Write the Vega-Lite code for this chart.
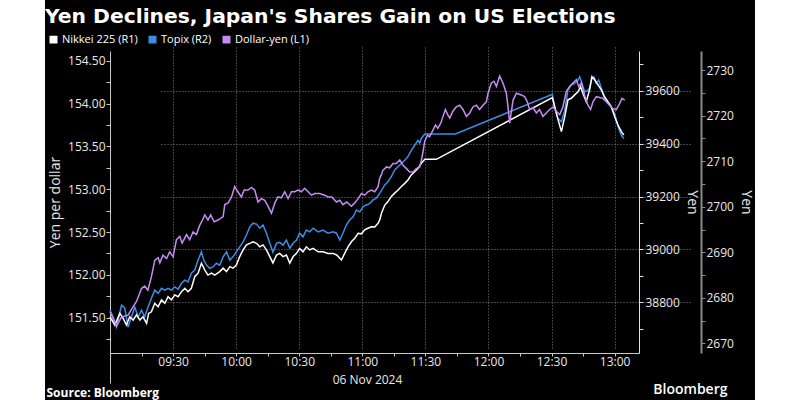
{
  "$schema": "https://vega.github.io/schema/vega-lite/v6.json",
  "width": 710,
  "height": 400,
  "autosize": "none",
  "padding": {"left": 45, "right": 45, "top": 0, "bottom": 0},
  "background": "#ffffff",
  "title": {"text": "Yen Declines, Japan's Shares Gain on US Elections", "anchor": "start", "frame": "group", "offset": -27, "font": "DejaVu Sans", "fontSize": 20.3, "fontWeight": "bold", "color": "#ffffff"},
  "config": {
    "view": {"fill": "#000000", "stroke": null},
    "font": "Open Sans",
    "axis": {"labelFont": "Open Sans", "labelFontSize": 12, "labelColor": "#e8e8e8", "titleFont": "Open Sans", "titleFontSize": 14, "titleFontWeight": "normal", "titleColor": "#e8e8e8", "domainColor": "#c8c8c8", "tickColor": "#c8c8c8", "tickSize": 4, "gridColor": "#808080", "gridDash": [1, 2], "labelOverlap": false, "labelFlush": false},
    "legend": {"orient": "none", "legendX": 3, "legendY": 34, "direction": "horizontal", "symbolType": "square", "symbolSize": 42, "labelFont": "Open Sans", "labelFontSize": 11, "labelColor": "#ffffff", "columnPadding": 8, "labelOffset": 3, "padding": 0}
  },
  "layer": [
    {
      "data": {"format": {"parse": {"t": "date:'%H:%M:%S'"}}, "values": [
        {"t":"09:00:00","v":2677.3},{"t":"09:01:30","v":2675.8},{"t":"09:03:06","v":2673.6},{"t":"09:05:30","v":2678.4},{"t":"09:07:00","v":2677.8},{"t":"09:08:36","v":2673.6},{"t":"09:10:12","v":2675.8},{"t":"09:11:48","v":2678.0},{"t":"09:13:24","v":2675.8},{"t":"09:15:00","v":2677.3},{"t":"09:16:30","v":2675.8},{"t":"09:18:06","v":2678.0},{"t":"09:19:42","v":2679.9},{"t":"09:21:18","v":2681.7},{"t":"09:22:54","v":2681.0},{"t":"09:24:30","v":2682.1},{"t":"09:26:06","v":2681.7},{"t":"09:27:36","v":2682.1},{"t":"09:29:12","v":2681.7},{"t":"09:30:48","v":2682.4},{"t":"09:32:24","v":2681.9},{"t":"09:34:00","v":2683.2},{"t":"09:35:36","v":2683.9},{"t":"09:37:06","v":2683.5},{"t":"09:38:42","v":2685.4},{"t":"09:40:18","v":2686.1},{"t":"09:41:54","v":2688.3},{"t":"09:43:30","v":2690.1},{"t":"09:44:36","v":2688.3},{"t":"09:45:54","v":2687.2},{"t":"09:47:24","v":2686.5},{"t":"09:49:00","v":2686.8},{"t":"09:50:36","v":2687.6},{"t":"09:52:12","v":2687.2},{"t":"09:53:48","v":2689.0},{"t":"09:55:24","v":2690.1},{"t":"09:57:00","v":2688.3},{"t":"09:58:30","v":2689.0},{"t":"10:00:06","v":2690.1},{"t":"10:01:42","v":2691.2},{"t":"10:03:18","v":2692.3},{"t":"10:04:54","v":2693.8},{"t":"10:06:30","v":2695.6},{"t":"10:08:00","v":2696.4},{"t":"10:09:42","v":2696.2},{"t":"10:11:12","v":2695.3},{"t":"10:12:48","v":2696.0},{"t":"10:14:24","v":2694.2},{"t":"10:16:00","v":2692.0},{"t":"10:17:30","v":2690.0},{"t":"10:19:12","v":2692.0},{"t":"10:20:42","v":2692.2},{"t":"10:22:18","v":2691.6},{"t":"10:23:54","v":2692.7},{"t":"10:25:30","v":2690.9},{"t":"10:27:06","v":2692.0},{"t":"10:28:42","v":2692.7},{"t":"10:30:12","v":2694.2},{"t":"10:31:48","v":2693.4},{"t":"10:33:24","v":2694.9},{"t":"10:35:00","v":2694.5},{"t":"10:36:36","v":2695.3},{"t":"10:39:00","v":2694.5},{"t":"10:41:18","v":2694.9},{"t":"10:43:42","v":2694.2},{"t":"10:46:06","v":2694.5},{"t":"10:47:42","v":2694.2},{"t":"10:49:18","v":2692.7},{"t":"10:50:48","v":2694.2},{"t":"10:52:24","v":2696.0},{"t":"10:54:00","v":2697.1},{"t":"10:55:36","v":2697.8},{"t":"10:57:12","v":2699.3},{"t":"10:58:48","v":2698.9},{"t":"11:00:18","v":2700.0},{"t":"11:01:54","v":2700.4},{"t":"11:03:30","v":2700.7},{"t":"11:05:06","v":2701.5},{"t":"11:06:42","v":2701.9},{"t":"11:08:18","v":2703.0},{"t":"11:10:42","v":2704.8},{"t":"11:12:12","v":2705.5},{"t":"11:13:48","v":2706.6},{"t":"11:15:24","v":2708.1},{"t":"11:17:00","v":2708.8},{"t":"11:18:36","v":2709.5},{"t":"11:20:12","v":2710.2},{"t":"11:21:42","v":2711.0},{"t":"11:23:18","v":2712.4},{"t":"11:24:54","v":2713.5},{"t":"11:26:30","v":2714.6},{"t":"11:27:18","v":2714.0},{"t":"11:28:06","v":2715.0},{"t":"11:29:42","v":2716.0},{"t":"11:44:18","v":2716.0},{"t":"12:30:24","v":2724.7},{"t":"12:31:30","v":2721.6},{"t":"12:33:00","v":2719.4},{"t":"12:34:42","v":2718.7},{"t":"12:36:18","v":2721.2},{"t":"12:37:48","v":2725.6},{"t":"12:39:24","v":2726.7},{"t":"12:41:00","v":2727.1},{"t":"12:42:36","v":2727.8},{"t":"12:43:24","v":2728.5},{"t":"12:44:30","v":2727.1},{"t":"12:45:42","v":2725.2},{"t":"12:47:18","v":2725.6},{"t":"12:48:06","v":2726.1},{"t":"12:49:12","v":2728.2},{"t":"12:50:12","v":2728.5},{"t":"12:51:18","v":2727.1},{"t":"12:52:24","v":2727.8},{"t":"12:53:42","v":2726.0},{"t":"12:55:12","v":2723.8},{"t":"12:56:48","v":2722.7},{"t":"12:58:24","v":2721.9},{"t":"13:00:00","v":2720.5},{"t":"13:01:36","v":2717.6},{"t":"13:03:12","v":2715.7},{"t":"13:04:24","v":2715.0}
      ]},
      "mark": {"type": "line", "strokeWidth": 1.5},
      "encoding": {
        "x": {
          "field": "t", "type": "temporal",
          "scale": {"domain": [{"year": 1900, "month": 1, "date": 1, "hours": 9, "minutes": 0}, {"year": 1900, "month": 1, "date": 1, "hours": 13, "minutes": 11, "seconds": 36}], "range": [65, 594]},
          "axis": {
            "orient": "bottom", "offset": -47, "title": "06 Nov 2024", "titleX": 322, "titleY": 21, "titleAlign": "center", "titleBaseline": "top", "titleFontSize": 12,
            "values": [
              {"year": 1900, "month": 1, "date": 1, "hours": 9, "minutes": 15},
              {"year": 1900, "month": 1, "date": 1, "hours": 9, "minutes": 30},
              {"year": 1900, "month": 1, "date": 1, "hours": 9, "minutes": 45},
              {"year": 1900, "month": 1, "date": 1, "hours": 10, "minutes": 0},
              {"year": 1900, "month": 1, "date": 1, "hours": 10, "minutes": 15},
              {"year": 1900, "month": 1, "date": 1, "hours": 10, "minutes": 30},
              {"year": 1900, "month": 1, "date": 1, "hours": 10, "minutes": 45},
              {"year": 1900, "month": 1, "date": 1, "hours": 11, "minutes": 0},
              {"year": 1900, "month": 1, "date": 1, "hours": 11, "minutes": 15},
              {"year": 1900, "month": 1, "date": 1, "hours": 11, "minutes": 30},
              {"year": 1900, "month": 1, "date": 1, "hours": 11, "minutes": 45},
              {"year": 1900, "month": 1, "date": 1, "hours": 12, "minutes": 0},
              {"year": 1900, "month": 1, "date": 1, "hours": 12, "minutes": 15},
              {"year": 1900, "month": 1, "date": 1, "hours": 12, "minutes": 30},
              {"year": 1900, "month": 1, "date": 1, "hours": 12, "minutes": 45},
              {"year": 1900, "month": 1, "date": 1, "hours": 13, "minutes": 0}
            ],
            "labelExpr": "minutes(datum.value) % 30 === 0 ? timeFormat(datum.value, '%H:%M') : ''",
            "labelPadding": 0, "tickSize": 3,
            "grid": true,
            "gridOpacity": {"condition": {"test": "minutes(datum.value) % 30 === 0", "value": 1}, "value": 0}
          }
        },
        "y": {"field": "v", "type": "quantitative", "scale": {"domain": [2667.9, 2734.2], "range": [353, 51], "nice": false, "zero": false},
          "axis": {"orient": "right", "offset": -54, "title": "Yen", "titlePadding": 5, "values": [2670, 2675, 2680, 2685, 2690, 2695, 2700, 2705, 2710, 2715, 2720, 2725, 2730], "format": "d", "labelExpr": "datum.value % 10 === 0 ? datum.label : ''", "labelPadding": 1, "grid": false, "domainColor": "#8a8a8a", "domainWidth": 2, "tickColor": "#8a8a8a"}},
        "color": {"datum": "Topix (R2)", "type": "nominal",
          "scale": {"domain": ["Nikkei 225 (R1)", "Topix (R2)", "Dollar-yen (L1)"], "range": ["#ffffff", "#3a8ee6", "#c58cf0"]},
          "legend": {"title": null, "encode": {"symbols": {"update": {"fill": {"scale": "color", "field": "value"}, "stroke": {"value": "transparent"}}}}}}
      }
    },
    {
      "data": {"format": {"parse": {"t": "date:'%H:%M:%S'"}}, "values": [
        {"t":"09:00:00","v":38745},{"t":"09:02:18","v":38714},{"t":"09:04:42","v":38758},{"t":"09:06:12","v":38740},{"t":"09:07:48","v":38714},{"t":"09:09:24","v":38745},{"t":"09:11:00","v":38733},{"t":"09:12:36","v":38752},{"t":"09:14:12","v":38733},{"t":"09:15:42","v":38745},{"t":"09:17:24","v":38720},{"t":"09:18:24","v":38758},{"t":"09:19:42","v":38764},{"t":"09:21:18","v":38796},{"t":"09:22:54","v":38783},{"t":"09:24:30","v":38809},{"t":"09:26:06","v":38796},{"t":"09:27:36","v":38821},{"t":"09:29:12","v":38809},{"t":"09:30:48","v":38828},{"t":"09:32:24","v":38821},{"t":"09:34:00","v":38840},{"t":"09:35:36","v":38853},{"t":"09:37:06","v":38840},{"t":"09:38:42","v":38853},{"t":"09:40:18","v":38897},{"t":"09:41:54","v":38910},{"t":"09:43:30","v":38948},{"t":"09:45:06","v":38922},{"t":"09:46:36","v":38903},{"t":"09:48:18","v":38910},{"t":"09:49:48","v":38903},{"t":"09:52:12","v":38916},{"t":"09:53:48","v":38929},{"t":"09:55:24","v":38916},{"t":"09:57:00","v":38935},{"t":"09:58:30","v":38929},{"t":"10:00:06","v":38941},{"t":"10:01:42","v":38973},{"t":"10:03:18","v":38998},{"t":"10:04:54","v":39017},{"t":"10:06:30","v":39023},{"t":"10:08:00","v":39029},{"t":"10:09:42","v":39023},{"t":"10:11:12","v":39010},{"t":"10:12:48","v":39017},{"t":"10:14:24","v":38998},{"t":"10:16:00","v":38973},{"t":"10:17:30","v":38949},{"t":"10:19:12","v":38979},{"t":"10:20:42","v":38985},{"t":"10:22:18","v":38973},{"t":"10:23:54","v":38979},{"t":"10:25:30","v":38948},{"t":"10:27:06","v":38973},{"t":"10:28:42","v":38985},{"t":"10:30:12","v":39004},{"t":"10:31:48","v":38991},{"t":"10:33:24","v":39010},{"t":"10:35:00","v":38998},{"t":"10:36:36","v":39004},{"t":"10:39:00","v":38991},{"t":"10:41:18","v":38991},{"t":"10:43:42","v":38985},{"t":"10:46:06","v":38985},{"t":"10:47:48","v":38979},{"t":"10:50:06","v":38960},{"t":"10:51:36","v":38985},{"t":"10:53:12","v":39010},{"t":"10:54:48","v":39029},{"t":"10:56:24","v":39042},{"t":"10:58:00","v":39061},{"t":"10:59:36","v":39059},{"t":"11:01:06","v":39074},{"t":"11:02:42","v":39080},{"t":"11:04:18","v":39086},{"t":"11:05:54","v":39085},{"t":"11:07:30","v":39099},{"t":"11:08:18","v":39112},{"t":"11:09:06","v":39137},{"t":"11:10:42","v":39168},{"t":"11:12:12","v":39181},{"t":"11:13:48","v":39200},{"t":"11:15:24","v":39213},{"t":"11:17:00","v":39225},{"t":"11:18:36","v":39238},{"t":"11:20:12","v":39250},{"t":"11:21:42","v":39263},{"t":"11:23:18","v":39282},{"t":"11:24:54","v":39294},{"t":"11:26:30","v":39307},{"t":"11:28:06","v":39326},{"t":"11:29:42","v":39341},{"t":"11:35:12","v":39341},{"t":"12:30:24","v":39575},{"t":"12:31:30","v":39541},{"t":"12:33:00","v":39494},{"t":"12:34:42","v":39446},{"t":"12:36:18","v":39503},{"t":"12:37:48","v":39566},{"t":"12:39:24","v":39572},{"t":"12:41:00","v":39585},{"t":"12:42:36","v":39597},{"t":"12:43:48","v":39616},{"t":"12:44:54","v":39591},{"t":"12:46:30","v":39559},{"t":"12:48:06","v":39604},{"t":"12:49:12","v":39654},{"t":"12:50:30","v":39642},{"t":"12:52:06","v":39623},{"t":"12:53:42","v":39604},{"t":"12:55:12","v":39578},{"t":"12:56:48","v":39559},{"t":"12:58:24","v":39541},{"t":"13:00:00","v":39503},{"t":"13:01:36","v":39471},{"t":"13:03:12","v":39446},{"t":"13:04:24","v":39433}
      ]},
      "mark": {"type": "line", "strokeWidth": 1.5},
      "encoding": {
        "x": {
          "field": "t", "type": "temporal",
          "scale": {"domain": [{"year": 1900, "month": 1, "date": 1, "hours": 9, "minutes": 0}, {"year": 1900, "month": 1, "date": 1, "hours": 13, "minutes": 11, "seconds": 36}], "range": [65, 594]},
          "axis": {"orient": "bottom", "offset": -47, "domain": false, "labels": false, "ticks": false, "grid": false, "title": "Source: Bloomberg", "titleX": 1, "titleY": 43, "titleAlign": "left", "titleBaseline": "alphabetic", "titleFontSize": 12, "titleFontWeight": "bold", "titleColor": "#ffffff"}
        },
        "y": {"field": "v", "type": "quantitative", "scale": {"domain": [38608, 39751], "range": [353, 51], "nice": false, "zero": false},
          "axis": {"orient": "right", "offset": -116, "title": "Yen", "titlePadding": 5, "values": [38700, 38800, 38900, 39000, 39100, 39200, 39300, 39400, 39500, 39600, 39700], "format": "d", "labelExpr": "datum.value % 200 === 0 ? datum.label : ''", "labelPadding": 2, "domainColor": "#e0e0e0", "tickColor": "#e0e0e0", "grid": true, "gridOpacity": {"condition": {"test": "datum.value % 200 === 0", "value": 1}, "value": 0}}},
        "color": {"datum": "Nikkei 225 (R1)", "type": "nominal"}
      }
    },
    {
      "data": {"format": {"parse": {"t": "date:'%H:%M:%S'"}}, "values": [
        {"t":"09:00:00","v":151.57},{"t":"09:03:06","v":151.40},{"t":"09:05:30","v":151.51},{"t":"09:08:36","v":151.53},{"t":"09:11:00","v":151.63},{"t":"09:12:36","v":151.69},{"t":"09:15:00","v":151.84},{"t":"09:16:30","v":151.87},{"t":"09:18:00","v":151.82},{"t":"09:19:42","v":151.98},{"t":"09:21:18","v":152.17},{"t":"09:22:54","v":152.20},{"t":"09:23:42","v":152.14},{"t":"09:25:12","v":152.23},{"t":"09:26:54","v":152.19},{"t":"09:28:24","v":152.27},{"t":"09:30:00","v":152.21},{"t":"09:31:36","v":152.41},{"t":"09:33:12","v":152.45},{"t":"09:34:18","v":152.37},{"t":"09:36:24","v":152.47},{"t":"09:37:54","v":152.41},{"t":"09:39:30","v":152.50},{"t":"09:41:06","v":152.47},{"t":"09:42:42","v":152.58},{"t":"09:44:00","v":152.64},{"t":"09:45:06","v":152.70},{"t":"09:46:36","v":152.64},{"t":"09:47:54","v":152.70},{"t":"09:49:30","v":152.62},{"t":"09:51:24","v":152.64},{"t":"09:53:48","v":152.68},{"t":"09:54:36","v":152.82},{"t":"09:56:12","v":152.84},{"t":"09:57:48","v":152.91},{"t":"09:59:18","v":153.03},{"t":"10:00:48","v":152.97},{"t":"10:02:30","v":152.91},{"t":"10:03:48","v":152.99},{"t":"10:05:42","v":152.99},{"t":"10:07:18","v":153.02},{"t":"10:08:48","v":152.99},{"t":"10:10:24","v":152.85},{"t":"10:12:00","v":152.89},{"t":"10:13:36","v":152.87},{"t":"10:15:12","v":152.80},{"t":"10:16:48","v":152.72},{"t":"10:18:24","v":152.84},{"t":"10:19:54","v":152.91},{"t":"10:21:30","v":152.90},{"t":"10:23:06","v":152.97},{"t":"10:24:42","v":152.89},{"t":"10:26:18","v":152.97},{"t":"10:27:54","v":152.97},{"t":"10:29:24","v":152.99},{"t":"10:31:00","v":152.97},{"t":"10:32:36","v":153.01},{"t":"10:34:12","v":152.97},{"t":"10:35:48","v":152.93},{"t":"10:37:24","v":152.95},{"t":"10:39:42","v":152.95},{"t":"10:42:06","v":152.93},{"t":"10:43:42","v":152.91},{"t":"10:45:30","v":152.91},{"t":"10:47:42","v":152.85},{"t":"10:49:18","v":152.87},{"t":"10:50:48","v":152.82},{"t":"10:52:36","v":152.85},{"t":"10:54:48","v":152.80},{"t":"10:56:24","v":152.84},{"t":"10:58:00","v":152.89},{"t":"10:59:36","v":152.95},{"t":"11:01:06","v":152.93},{"t":"11:02:42","v":152.97},{"t":"11:04:18","v":152.99},{"t":"11:05:54","v":152.97},{"t":"11:07:30","v":153.03},{"t":"11:08:18","v":153.13},{"t":"11:09:06","v":153.17},{"t":"11:09:48","v":153.22},{"t":"11:11:30","v":153.26},{"t":"11:13:00","v":153.25},{"t":"11:14:36","v":153.30},{"t":"11:16:12","v":153.30},{"t":"11:17:48","v":153.34},{"t":"11:19:24","v":153.28},{"t":"11:21:00","v":153.24},{"t":"11:22:30","v":153.20},{"t":"11:24:06","v":153.20},{"t":"11:25:42","v":153.24},{"t":"11:27:18","v":153.26},{"t":"11:28:06","v":153.34},{"t":"11:28:54","v":153.44},{"t":"11:29:42","v":153.56},{"t":"11:31:00","v":153.63},{"t":"11:32:00","v":153.61},{"t":"11:33:36","v":153.69},{"t":"11:34:48","v":153.75},{"t":"11:35:54","v":153.71},{"t":"11:37:18","v":153.77},{"t":"11:38:24","v":153.85},{"t":"11:39:30","v":153.93},{"t":"11:40:36","v":153.87},{"t":"11:41:36","v":153.83},{"t":"11:43:06","v":153.91},{"t":"11:44:42","v":153.96},{"t":"11:46:18","v":153.98},{"t":"11:47:54","v":153.93},{"t":"11:49:30","v":153.85},{"t":"11:51:06","v":153.89},{"t":"11:52:36","v":153.96},{"t":"11:54:12","v":153.98},{"t":"11:55:48","v":153.93},{"t":"11:57:24","v":153.98},{"t":"11:59:00","v":154.02},{"t":"11:59:48","v":154.12},{"t":"12:01:24","v":154.24},{"t":"12:02:36","v":154.26},{"t":"12:03:48","v":154.20},{"t":"12:05:18","v":154.32},{"t":"12:06:54","v":154.24},{"t":"12:08:30","v":154.12},{"t":"12:09:18","v":153.96},{"t":"12:10:06","v":153.77},{"t":"12:11:42","v":154.04},{"t":"12:13:18","v":154.12},{"t":"12:15:36","v":154.10},{"t":"12:17:12","v":154.08},{"t":"12:18:30","v":154.02},{"t":"12:19:36","v":153.93},{"t":"12:21:12","v":153.95},{"t":"12:22:48","v":153.89},{"t":"12:24:18","v":153.93},{"t":"12:25:54","v":153.85},{"t":"12:27:30","v":153.89},{"t":"12:29:06","v":153.93},{"t":"12:30:42","v":153.96},{"t":"12:32:18","v":153.91},{"t":"12:33:54","v":153.87},{"t":"12:35:24","v":153.96},{"t":"12:37:00","v":154.14},{"t":"12:38:36","v":154.20},{"t":"12:40:12","v":154.24},{"t":"12:41:48","v":154.28},{"t":"12:42:54","v":154.20},{"t":"12:44:12","v":154.24},{"t":"12:45:42","v":154.10},{"t":"12:47:18","v":153.98},{"t":"12:48:36","v":153.93},{"t":"12:49:42","v":154.02},{"t":"12:51:18","v":154.08},{"t":"12:52:54","v":154.07},{"t":"12:54:24","v":154.06},{"t":"12:56:06","v":154.02},{"t":"12:57:36","v":153.98},{"t":"12:59:12","v":153.94},{"t":"13:00:48","v":153.93},{"t":"13:02:24","v":154.00},{"t":"13:03:30","v":154.06},{"t":"13:04:48","v":154.04}
      ]},
      "mark": {"type": "line", "strokeWidth": 1.5},
      "encoding": {
        "x": {
          "field": "t", "type": "temporal",
          "scale": {"domain": [{"year": 1900, "month": 1, "date": 1, "hours": 9, "minutes": 0}, {"year": 1900, "month": 1, "date": 1, "hours": 13, "minutes": 11, "seconds": 36}], "range": [65, 594]},
          "axis": {"orient": "bottom", "offset": -47, "domain": false, "labels": false, "ticks": true, "tickSize": 30, "tickColor": "#c8c8c8", "grid": false,
            "values": [{"year": 1900, "month": 1, "date": 1, "hours": 9, "minutes": 0}],
            "title": "Bloomberg", "titleX": 682, "titleY": 40, "titleAlign": "right", "titleBaseline": "alphabetic", "titleFontSize": 14, "titleFontWeight": 600, "titleColor": "#ffffff"}
        },
        "y": {"field": "v", "type": "quantitative", "scale": {"domain": [151.088, 154.613], "range": [353, 51], "nice": false, "zero": false},
          "axis": {"orient": "left", "offset": -65, "title": "Yen per dollar", "titlePadding": 5, "values": [151.25, 151.5, 151.75, 152, 152.25, 152.5, 152.75, 153, 153.25, 153.5, 153.75, 154, 154.25, 154.5], "format": ".2f", "labelExpr": "datum.value % 0.5 === 0 ? datum.label : ''", "labelPadding": 1, "grid": false}},
        "color": {"datum": "Dollar-yen (L1)", "type": "nominal"}
      }
    }
  ],
  "resolve": {"scale": {"y": "independent"}, "axis": {"y": "independent", "x": "independent"}}
}
